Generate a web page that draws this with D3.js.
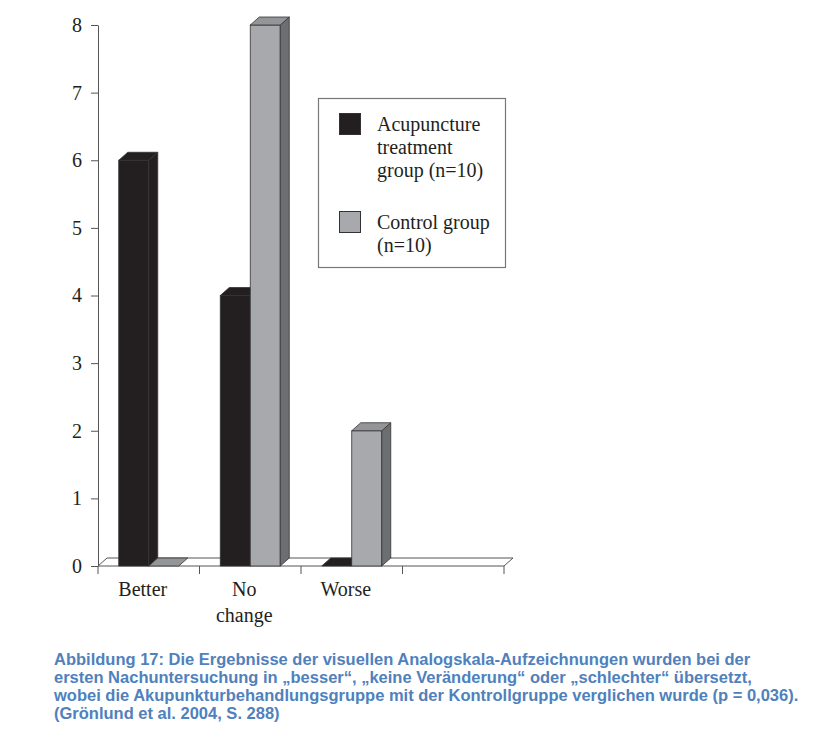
<!DOCTYPE html>
<html>
<head>
<meta charset="utf-8">
<script src="https://cdn.jsdelivr.net/npm/d3@7/dist/d3.min.js"></script>
<style>
  body { margin: 0; background: #fff; }
  svg text { font-family: "Liberation Serif", "Times New Roman", serif; fill: #231f20; }
  .caption text, text.caption { font-family: "Liberation Sans", Arial, sans-serif; font-weight: bold; fill: #4f81bd; }
</style>
</head>
<body>
<script>
//Chart data
const categories = ["Better", "No change", "Worse"];
const categoryLines = [["Better"], ["No", "change"], ["Worse"]];
const groups = ["Acupuncture", "Control"];
const acupuncture = [6, 4, 0];
const control = [0, 8, 2];
const yTicks = [0, 1, 2, 3, 4, 5, 6, 7, 8];
const legendLabels = [["Acupuncture", "treatment", "group (n=10)"], ["Control group", "(n=10)"]];
const captionLines = [
    "Abbildung 17: Die Ergebnisse der visuellen Analogskala-Aufzeichnungen wurden bei der",
    "ersten Nachuntersuchung in \u201ebesser\u201c, \u201ekeine Ver\u00e4nderung\u201c oder \u201eschlechter\u201c \u00fcbersetzt,",
    "wobei die Akupunkturbehandlungsgruppe mit der Kontrollgruppe verglichen wurde (p = 0,036).",
    "(Gr\u00f6nlund et al. 2004, S. 288)"
];

const width = 827;
const height = 732;
const depthX = 9;
const depthY = -8;

//Colours per group: front, top, side
const colors = {
    Acupuncture: {front: "#231f20", top: "#231f20", side: "#231f20"},
    Control: {front: "#a7a9ac", top: "#939598", side: "#6d6e71"}
};

const svg = d3.select("body")
    .append("svg")
    .attr("width", width)
    .attr("height", height);

//Scales (4th slot is empty, like the original)
const slots = [...categories, ""];
const x = d3.scaleBand()
    .domain(slots)
    .range([98, 504]);
const x1 = d3.scaleBand()
    .domain(groups)
    .range([x.bandwidth() / 2 - 30, x.bandwidth() / 2 + 30]);
const y = d3.scaleLinear()
    .domain([0, 8])
    .range([566, 25]);

//Floor
const [x0, xEnd] = x.range();
svg.append("path")
    .attr("d", `M${x0},${y(0)} L${x0 + depthX},${y(0) + depthY} L${xEnd + depthX},${y(0) + depthY} L${xEnd},${y(0)} Z`)
    .attr("fill", "#fff")
    .attr("stroke", "#555")
    .attr("stroke-width", 1);

//Y axis
const yAxis = svg.append("g")
    .attr("transform", `translate(${x0},0)`)
    .call(d3.axisLeft(y).tickValues(yTicks).tickSize(7).tickSizeOuter(0).tickPadding(9));
yAxis.select(".domain").attr("stroke", "#555");
yAxis.selectAll(".tick line").attr("stroke", "#555");
yAxis.selectAll(".tick text")
    .attr("font-size", 20)
    .attr("font-family", "Liberation Serif, serif")
    .attr("fill", "#231f20");

//X axis ticks at slot boundaries
const boundaries = slots.map(s => x(s)).concat([xEnd]);
svg.append("g")
    .selectAll("line")
    .data(boundaries)
    .join("line")
    .attr("x1", d => d)
    .attr("x2", d => d)
    .attr("y1", y(0))
    .attr("y2", y(0) + 8)
    .attr("stroke", "#555");

//Category labels
const labels = svg.append("g")
    .selectAll("text")
    .data(categories)
    .join("text")
    .attr("text-anchor", "middle")
    .attr("font-size", 20)
    .attr("transform", d => `translate(${x(d) + x.bandwidth() / 2 - 6},596)`);
labels.selectAll("tspan")
    .data((d, i) => categoryLines[i])
    .join("tspan")
    .attr("x", 0)
    .attr("y", (d, i) => i * 26)
    .text(d => d);

//3D bars
const barData = [];
categories.forEach((c, i) => {
    barData.push({category: c, group: "Acupuncture", value: acupuncture[i]});
    barData.push({category: c, group: "Control", value: control[i]});
});

const bars = svg.append("g")
    .selectAll("g")
    .data(barData)
    .join("g");

bars.each(function(d) {
    const g = d3.select(this);
    const left = x(d.category) + x1(d.group);
    const right = left + x1.bandwidth();
    const top = y(d.value);
    const base = y(0);
    const c = colors[d.group];
    const stroke = "#333";
    if (d.value > 0) {
        g.append("rect")
            .attr("x", left)
            .attr("y", top)
            .attr("width", right - left)
            .attr("height", base - top)
            .attr("fill", c.front)
            .attr("stroke", stroke)
            .attr("stroke-width", 0.8);
        g.append("path")
            .attr("d", `M${right},${top} L${right + depthX},${top + depthY} L${right + depthX},${base + depthY} L${right},${base} Z`)
            .attr("fill", c.side)
            .attr("stroke", stroke)
            .attr("stroke-width", 0.8);
    }
    g.append("path")
        .attr("d", `M${left},${top} L${left + depthX},${top + depthY} L${right + depthX},${top + depthY} L${right},${top} Z`)
        .attr("fill", c.top)
        .attr("stroke", stroke)
        .attr("stroke-width", 0.8);
});

//Legend
const legend = svg.append("g");
legend.append("rect")
    .attr("x", 318.5)
    .attr("y", 98.5)
    .attr("width", 187)
    .attr("height", 169)
    .attr("fill", "#fff")
    .attr("stroke", "#777")
    .attr("stroke-width", 1.2);

const legendTop = [113, 211];
groups.forEach((gName, i) => {
    legend.append("rect")
        .attr("x", 339.5)
        .attr("y", legendTop[i] + 0.5)
        .attr("width", 21)
        .attr("height", 21)
        .attr("fill", colors[gName].front)
        .attr("stroke", "#333")
        .attr("stroke-width", 1);
    const t = legend.append("text")
        .attr("font-size", 20)
        .attr("transform", `translate(377,${legendTop[i] + 18})`);
    t.selectAll("tspan")
        .data(legendLabels[i])
        .join("tspan")
        .attr("x", 0)
        .attr("y", (d, j) => j * 23)
        .text(d => d);
});

//Caption
const caption = svg.append("text")
    .attr("class", "caption")
    .attr("font-size", 16.5)
    .attr("transform", "translate(54,665)");
caption.selectAll("tspan")
    .data(captionLines)
    .join("tspan")
    .attr("x", 0)
    .attr("y", (d, i) => i * 18)
    .text(d => d);
</script>
</body>
</html>
